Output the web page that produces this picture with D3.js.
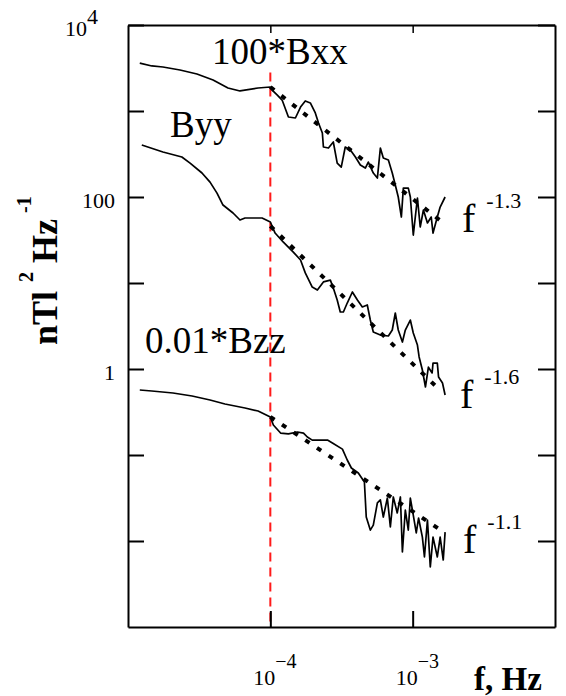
<!DOCTYPE html>
<html>
<head>
<meta charset="utf-8">
<script src="https://cdn.jsdelivr.net/npm/d3@7"></script>
<style>
  body { margin: 0; background: #fff; }
  svg { display: block; font-family: "Liberation Serif", "Times New Roman", serif; }
</style>
</head>
<body>
<svg id="chart" width="566" height="696"></svg>
<script>
// spectra (values already scaled as plotted)
const bxxFreq = [1.21e-5,1.47e-5,1.76e-5,2.32e-5,3.05e-5,3.96e-5,5.04e-5,6.12e-5,8.20e-5,1.0e-4,
  1.03e-4,1.12e-4,1.21e-4,1.34e-4,1.50e-4,1.63e-4,1.76e-4,1.91e-4,2.07e-4,2.18e-4,
  2.32e-4,2.36e-4,2.56e-4,2.77e-4,2.95e-4,3.15e-4,3.36e-4,3.65e-4,3.96e-4,4.29e-4,
  4.65e-4,4.88e-4,5.29e-4,5.65e-4,5.93e-4,6.22e-4,6.75e-4,7.19e-4,7.55e-4,7.92e-4,
  8.33e-4,8.60e-4,9.32e-4,9.63e-4,1.01e-3,1.08e-3,1.13e-3,1.19e-3,1.27e-3,1.35e-3,
  1.39e-3,1.49e-3,1.56e-3,1.69e-3];
const bxxPsd = [3610,3340,3250,3000,2690,2290,1850,1710,1850,1900,
  1750,1530,1340,852,829,1110,1310,1240,948,725,
  555,381,371,436,248,223,381,352,292,236,
  217,255,190,166,371,284,269,190,138,100,
  58.5,127,127,100,36.1,97.3,44.8,70.6,49.9,58.5,
  38.1,58.5,76.5,100];

const byyFreq = [1.25e-5,1.76e-5,2.39e-5,2.73e-5,3.31e-5,3.77e-5,4.22e-5,4.65e-5,5.47e-5,6.12e-5,
  6.64e-5,8.75e-5,1.0e-4,1.08e-4,1.23e-4,1.45e-4,1.63e-4,1.76e-4,1.97e-4,2.14e-4,
  2.36e-4,2.64e-4,2.77e-4,2.95e-4,3.10e-4,3.26e-4,3.47e-4,3.77e-4,4.09e-4,4.43e-4,
  4.80e-4,5.04e-4,5.29e-4,5.93e-4,6.75e-4,7.19e-4,7.55e-4,7.92e-4,8.47e-4,8.88e-4,
  9.63e-4,1.01e-3,1.08e-3,1.11e-3,1.17e-3,1.23e-3,1.29e-3,1.37e-3,1.39e-3,1.49e-3,
  1.52e-3,1.62e-3,1.69e-3];
const byyPsd = [403,334,292,248,190,149,111,80.7,65.2,54.0,
  57.0,57.0,51.2,38.1,30.0,22.9,18.5,13.1,8.98,8.29,
  10.3,10.8,8.75,6.35,4.60,4.60,5.85,7.86,6.35,5.26,
  5.55,3.71,2.69,2.48,2.42,2.84,4.48,2.84,2.06,2.84,
  3.71,2.62,1.90,1.38,0.973,0.618,1.05,0.899,1.17,1.17,
  0.807,0.688,0.499];

const bzzFreq = [1.21e-5,1.47e-5,2.07e-5,2.82e-5,3.77e-5,4.80e-5,6.64e-5,8.20e-5,1.0e-4,1.05e-4,
  1.18e-4,1.34e-4,1.55e-4,1.71e-4,1.82e-4,1.97e-4,2.52e-4,2.73e-4,3.21e-4,3.47e-4,
  3.71e-4,4.15e-4,4.58e-4,4.72e-4,5.04e-4,5.29e-4,5.65e-4,5.93e-4,6.22e-4,6.64e-4,
  6.97e-4,7.31e-4,7.79e-4,8.20e-4,8.47e-4,8.88e-4,9.32e-4,9.63e-4,1.01e-3,1.06e-3,
  1.10e-3,1.17e-3,1.21e-3,1.27e-3,1.33e-3,1.39e-3,1.49e-3,1.56e-3,1.64e-3,1.69e-3];
const bzzPsd = [0.570,0.555,0.526,0.485,0.436,0.392,0.352,0.325,0.277,0.223,
  0.180,0.176,0.185,0.180,0.162,0.149,0.149,0.138,0.117,0.0875,
  0.0706,0.0618,0.0485,0.0190,0.0134,0.0153,0.0277,0.0300,0.0190,0.0316,
  0.0146,0.0325,0.0212,0.0325,0.00745,0.0229,0.0134,0.0316,0.0200,0.0124,
  0.0185,0.0111,0.00652,0.0175,0.00499,0.0111,0.00652,0.0111,0.00601,0.0127];

const seriesNames = ["100*Bxx", "Byy", "0.01*Bzz"];

// power law fits (start / end of the dotted lines)
const fitStartFreq = [1e-4, 1e-4, 1e-4];
const fitEndFreq = [1.55e-3, 1.5e-3, 1.64e-3];
const fitStartPsd = [1900, 46, 0.277];
const fitEndPsd = [53.8, 0.60, 0.0128];
const fitExponents = ["-1.3", "-1.6", "-1.1"];

const markerFreq = 1e-4;     // red dashed line
const markerTopPsd = 2.8e3;

const yTickValues = [1e-2, 1e-1, 1, 10, 100, 1e3, 1e4];
const yLabelValues = [1e4, 100, 1];
const yLabelBase = ["10", "100", "1"];
const yLabelSup = ["4", "", ""];
const xTickValues = [1e-4, 1e-3];
const xLabelBase = ["10", "10"];
const xLabelSup = ["\u22124", "\u22123"];

const margin = {top: 25, right: 11, bottom: 69, left: 128};
const width = 566 - margin.left - margin.right;
const height = 696 - margin.top - margin.bottom;

const svg = d3.select("#chart");
const g = svg.append("g").attr("transform", `translate(${margin.left},${margin.top})`);

const x = d3.scaleLog().domain([1e-5, 1e-2]).range([0, width]);
const y = d3.scaleLog().domain([1e-3, 1e4]).range([height, 0]);

// red marker line
g.append("line")
  .attr("x1", x(markerFreq)).attr("x2", x(markerFreq))
  .attr("y1", y(markerTopPsd)).attr("y2", height)
  .attr("stroke", "#ff1a1a")
  .attr("stroke-width", 2)
  .attr("stroke-dasharray", "9,6");

// frame + ticks (all ticks point inward)
const axes = [
  g.append("g").call(d3.axisLeft(y).tickValues(yTickValues).tickSizeInner(-16).tickSizeOuter(0).tickFormat("")),
  g.append("g").attr("transform", `translate(${width},0)`)
    .call(d3.axisRight(y).tickValues(yTickValues).tickSizeInner(-17).tickSizeOuter(0).tickFormat("")),
  g.append("g").call(d3.axisTop(x).tickValues(xTickValues).tickSizeInner(-8).tickSizeOuter(0).tickFormat("")),
  g.append("g").attr("transform", `translate(0,${height})`)
    .call(d3.axisBottom(x).tickValues(xTickValues).tickSizeInner(-16).tickSizeOuter(0).tickFormat(""))
];
axes.forEach(a => {
  a.select(".domain").attr("stroke", "#000").attr("stroke-width", 2);
  a.selectAll(".tick line").attr("stroke", "#000").attr("stroke-width", 2);
});
axes[2].selectAll(".tick line").attr("stroke-width", 1.5);

// y tick labels
yLabelValues.forEach((v, i) => {
  const t = g.append("text")
    .attr("x", yLabelSup[i] ? -28 : -13)
    .attr("y", y(v) + 11)
    .attr("text-anchor", "end")
    .attr("font-size", 22)
    .text(yLabelBase[i]);
  if (yLabelSup[i]) {
    t.attr("x", -63).attr("text-anchor", "start");
    t.append("tspan").attr("dy", -12).attr("font-size", 22).text(yLabelSup[i]);
  }
});

// x tick labels
xTickValues.forEach((v, i) => {
  const t = g.append("text")
    .attr("x", x(v) - 17)
    .attr("y", height + 58)
    .attr("font-size", 22)
    .text(xLabelBase[i]);
  t.append("tspan").attr("dy", -17).attr("font-size", 20).text(xLabelSup[i]);
});

// axis titles
svg.append("text")
  .attr("x", 474).attr("y", 690)
  .attr("font-size", 33).attr("font-weight", "bold")
  .text("f, Hz");

const yt = svg.append("text")
  .attr("transform", "translate(57,345) rotate(-90)")
  .attr("font-size", 36).attr("font-weight", "bold");
yt.append("tspan").text("nTl ");
yt.append("tspan").attr("font-size", 20).attr("dy", -24).text("2");
yt.append("tspan").attr("dy", 24).text(" Hz");
yt.append("tspan").attr("font-size", 20).attr("dx", 6).attr("dy", -26).text("-1");

// spectra
const line = d3.line().x(d => x(d[0])).y(d => y(d[1]));
const spectra = [
  d3.zip(bxxFreq, bxxPsd),
  d3.zip(byyFreq, byyPsd),
  d3.zip(bzzFreq, bzzPsd)
];
g.selectAll("path.spectrum")
  .data(spectra)
  .join("path")
  .attr("class", "spectrum")
  .attr("fill", "none")
  .attr("stroke", "#000")
  .attr("stroke-width", 1.7)
  .attr("stroke-linejoin", "round")
  .attr("d", line);

// dotted fits
g.selectAll("path.fit")
  .data(fitExponents.map((e, i) => [[fitStartFreq[i], fitStartPsd[i]], [fitEndFreq[i], fitEndPsd[i]]]))
  .join("path")
  .attr("class", "fit")
  .attr("fill", "none")
  .attr("stroke", "#000")
  .attr("stroke-width", 4)
  .attr("stroke-dasharray", "5,9")
  .attr("d", line);

// series labels
const namePos = [[212, 64], [170, 137], [145, 353]];
svg.selectAll("text.name")
  .data(seriesNames)
  .join("text")
  .attr("class", "name")
  .attr("x", (d, i) => namePos[i][0])
  .attr("y", (d, i) => namePos[i][1])
  .attr("font-size", 37)
  .text(d => d);

// f^n labels
const fPos = [[462, 232], [460, 408], [463, 553]];
fitExponents.forEach((e, i) => {
  const t = svg.append("text")
    .attr("x", fPos[i][0]).attr("y", fPos[i][1])
    .attr("font-size", 40)
    .text("f");
  t.append("tspan").attr("dx", 11).attr("dy", -24).attr("font-size", 22).text(e);
});
</script>
</body>
</html>
